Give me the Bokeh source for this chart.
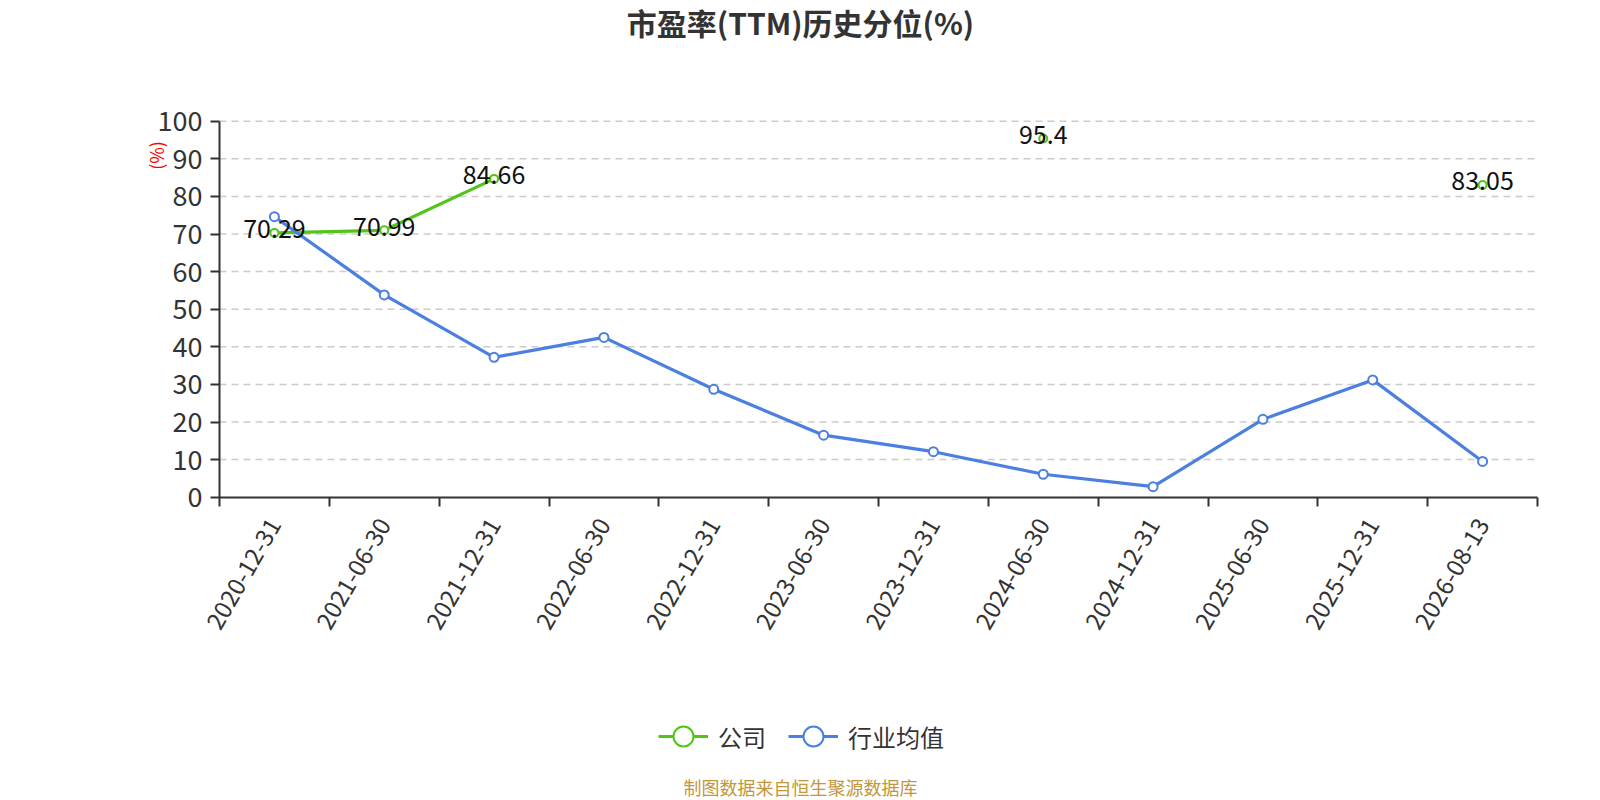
import math
import numpy as np
from bokeh.plotting import figure
from bokeh.models import (ColumnDataSource, Range1d, FixedTicker, Label, Legend, LegendItem,
                          LinearAxis)
from bokeh.core.properties import value
from bokeh.embed import file_html
from bokeh.resources import INLINE

# ---- data ----
dates = ["2020-12-31", "2021-06-30", "2021-12-31", "2022-06-30", "2022-12-31", "2023-06-30",
         "2023-12-31", "2024-06-30", "2024-12-31", "2025-06-30", "2025-12-31", "2026-08-13"]
company = [70.29, 70.99, 84.66, None, None, None, None, 95.4, None, None, None, 83.05]
industry = [74.6, 53.8, 37.2, 42.5, 28.7, 16.5, 12.1, 6.1, 2.8, 20.7, 31.2, 9.5]
y_ticks = [0, 10, 20, 30, 40, 50, 60, 70, 80, 90, 100]
series_names = ["公司", "行业均值"]
title_text = "市盈率(TTM)历史分位(%)"
footer_text = "制图数据来自恒生聚源数据库"
y_unit = "(%)"

GREEN = "#52c41a"
BLUE = "#4b7fe0"
FONT = "Noto Sans CJK SC"

n = len(dates)
xs = np.arange(n) + 0.5
comp = np.array([np.nan if v is None else v for v in company], dtype=float)
y_max = y_ticks[-1]

# ---- canvas / plot-area geometry (pixels) ----
W, H = 1600, 800
AREA_L, AREA_R, AREA_T, AREA_B = 219.0, 1537.0, 120.7, 496.7
px_x = (AREA_R - AREA_L) / n
px_y = (AREA_B - AREA_T) / y_max

def dx(sx):
    return (sx - AREA_L) / px_x

def dy(sy):
    return (AREA_B - sy) / px_y

p = figure(width=W, height=H, output_backend="svg", toolbar_location=None, title=None,
           x_range=Range1d(dx(0), dx(W)), y_range=Range1d(dy(H), dy(0)),
           x_axis_location=None, y_axis_location=None,
           min_border=0, min_border_left=0, min_border_right=0,
           min_border_top=0, min_border_bottom=0)
p.outline_line_color = None
p.background_fill_color = "white"
p.border_fill_color = "white"
p.xgrid.visible = False
p.ygrid.visible = False

# grid lines (dashed) over the plot area
gy = y_ticks[1:]
p.segment(x0=[0] * len(gy), x1=[n] * len(gy), y0=gy, y1=gy, line_color="#cccccc",
          line_width=1.5, line_dash="7 5", level="underlay")

# axes
xa = LinearAxis(fixed_location=0, bounds=(0, n),
                ticker=FixedTicker(ticks=list(xs), minor_ticks=list(range(n + 1))))
xa.major_label_overrides = {float(x): d for x, d in zip(xs, dates)}
xa.major_label_orientation = math.pi / 3
xa.major_tick_out = 0
xa.major_tick_in = 0
xa.minor_tick_out = 9
xa.minor_tick_in = 0
xa.minor_tick_line_color = "#333333"
xa.minor_tick_line_width = 2
xa.axis_line_color = "#333333"
xa.axis_line_width = 2
xa.major_label_text_font = FONT
xa.major_label_text_font_size = "24px"
xa.major_label_text_color = "#333333"
xa.major_label_standoff = 14
p.add_layout(xa, "below")

ya = LinearAxis(fixed_location=0, bounds=(0, y_max), ticker=FixedTicker(ticks=y_ticks))
ya.major_tick_out = 9
ya.major_tick_in = 0
ya.minor_tick_out = 0
ya.minor_tick_in = 0
ya.major_tick_line_color = "#333333"
ya.major_tick_line_width = 2
ya.axis_line_color = "#333333"
ya.axis_line_width = 2
ya.major_label_text_font = FONT
ya.major_label_text_font_size = "27px"
ya.major_label_text_color = "#333333"
ya.major_label_standoff = 8
p.add_layout(ya, "left")

# series
src_c = ColumnDataSource(dict(x=xs, y=comp))
src_i = ColumnDataSource(dict(x=xs, y=np.array(industry, dtype=float)))

lc = p.line("x", "y", source=src_c, line_color=GREEN, line_width=3.2)
li = p.line("x", "y", source=src_i, line_color=BLUE, line_width=3.2)
sc = p.scatter("x", "y", source=src_c, size=8, marker="circle", fill_color="white",
               line_color=GREEN, line_width=2)
si = p.scatter("x", "y", source=src_i, size=9, marker="circle", fill_color="white",
               line_color=BLUE, line_width=2)

# data labels for company
mask = ~np.isnan(comp)
lab_src = ColumnDataSource(dict(x=xs[mask], y=comp[mask],
                                t=[("%g" % v) for v in comp[mask]]))
p.text("x", "y", text="t", source=lab_src, text_align="center", text_baseline="middle",
       y_offset=-4, text_font=value(FONT), text_font_size="25px", text_color="#111111")

# title, unit label, footer
p.add_layout(Label(x=dx(800), y=dy(21.5), text=title_text, text_align="center",
                   text_baseline="middle", text_font=FONT, text_font_size="30px",
                   text_font_style="bold", text_color="#333333"))
p.add_layout(Label(x=dx(800), y=dy(786), text=footer_text, text_align="center",
                   text_baseline="middle", text_font=FONT, text_font_size="18px",
                   text_color="#c4963a"))
p.add_layout(Label(x=dx(155), y=dy(155), text=y_unit, text_align="center",
                   text_baseline="middle", angle=math.pi / 2, text_font=FONT,
                   text_font_size="18px", text_color="#ff0000"))

legend = Legend(items=[LegendItem(label=series_names[0], renderers=[lc, sc]),
                       LegendItem(label=series_names[1], renderers=[li, si])],
                orientation="horizontal", location=(658, H - 762),
                glyph_width=50, glyph_height=52, label_height=24, label_standoff=10,
                spacing=22, padding=0, margin=0, border_line_alpha=0,
                background_fill_alpha=0, label_text_font=FONT,
                label_text_font_size="24px", label_text_color="#333333")
p.add_layout(legend)

open("out.html", "w").write(file_html(p, INLINE))
